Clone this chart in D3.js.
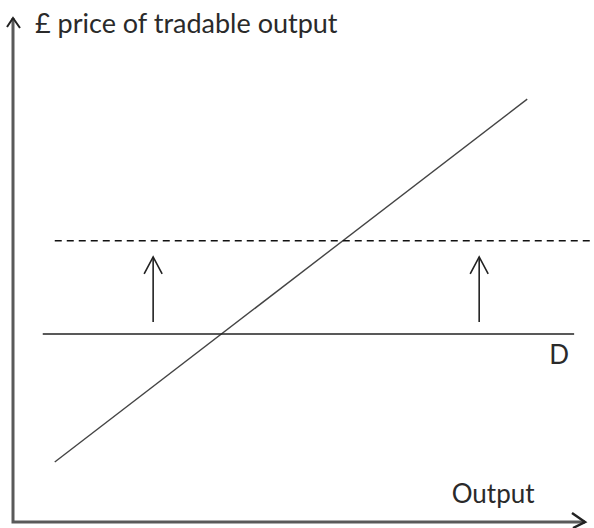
<!DOCTYPE html>
<html>
<head>
<meta charset="utf-8">
<script src="https://cdn.jsdelivr.net/npm/d3@7"></script>
<style>
  body { margin: 0; background: #fff; }
  text { font-family: Lato, "Open Sans", sans-serif; fill: #2a2a2a; }
</style>
</head>
<body>
<script>
// diagram data, in abstract units (0-100 on both axes)
const supplyLine = [[7.3, 11.9], [89.9, 83.9]];
const oldPrice = [[5.2, 37.3], [98.1, 37.3]];
const newPrice = [[7.3, 55.8], [101.6, 55.8]];
const shiftArrowsX = [24.5, 81.5];
const shiftFrom = 39.7;
const shiftTo = 52.6;
const yLabel = "£ price of tradable output";
const xLabel = "Output";
const lineLabel = "D";

const w = 594;
const h = 528;

const xScale = d3.scaleLinear().domain([0, 100]).range([13, 585]);
const yScale = d3.scaleLinear().domain([0, 100]).range([522, 18]);

const line = d3.line()
  .x((d) => xScale(d[0]))
  .y((d) => yScale(d[1]));

const svg = d3.select("body")
  .append("svg")
  .attr("width", w)
  .attr("height", h);

// axes
svg.append("path")
  .attr("d", line([[0, 100], [0, 0], [100, 0]]))
  .attr("fill", "none")
  .attr("stroke", "#5a5a5a")
  .attr("stroke-width", 3);

// axis arrow heads (open chevrons)
const yTip = [xScale(0), yScale(100)];
svg.append("path")
  .attr("d", `M${yTip[0] - 6},${yTip[1] + 9} L${yTip[0]},${yTip[1]} L${yTip[0] + 7},${yTip[1] + 10}`)
  .attr("fill", "none").attr("stroke", "#222").attr("stroke-width", 2);
const xTip = [xScale(100), yScale(0)];
svg.append("path")
  .attr("d", `M${xTip[0] - 13},${xTip[1] - 9} L${xTip[0]},${xTip[1]} L${xTip[0] - 12},${xTip[1] + 6}`)
  .attr("fill", "none").attr("stroke", "#222").attr("stroke-width", 2.5);

// supply line
svg.append("path")
  .attr("d", line(supplyLine))
  .attr("fill", "none")
  .attr("stroke", "#444")
  .attr("stroke-width", 1.4);

// old price line D
svg.append("path")
  .attr("d", line(oldPrice))
  .attr("fill", "none")
  .attr("stroke", "#222")
  .attr("stroke-width", 1.6);

// new price (dashed)
svg.append("path")
  .attr("d", line(newPrice))
  .attr("fill", "none")
  .attr("stroke", "#111")
  .attr("stroke-width", 1.6)
  .attr("stroke-dasharray", "7,5");

// up arrows
shiftArrowsX.forEach((x) => {
  const px = xScale(x);
  const y0 = yScale(shiftFrom);
  const y1 = yScale(shiftTo);
  svg.append("line")
    .attr("x1", px).attr("y1", y0)
    .attr("x2", px).attr("y2", y1)
    .attr("stroke", "#222").attr("stroke-width", 1.6);
  svg.append("path")
    .attr("d", `M${px - 9},${y1 + 17} L${px},${y1} L${px + 9},${y1 + 17}`)
    .attr("fill", "none").attr("stroke", "#222").attr("stroke-width", 1.6);
});

// labels
svg.append("text")
  .attr("x", 35).attr("y", 33)
  .attr("font-size", 27)
  .text(yLabel);

svg.append("text")
  .attr("x", xScale(76.7)).attr("y", yScale(3.8))
  .attr("font-size", 26)
  .text(xLabel);

svg.append("text")
  .attr("x", xScale(95.5)).attr("y", yScale(31.3))
  .attr("text-anchor", "middle")
  .attr("font-size", 26)
  .text(lineLabel);
</script>
</body>
</html>
